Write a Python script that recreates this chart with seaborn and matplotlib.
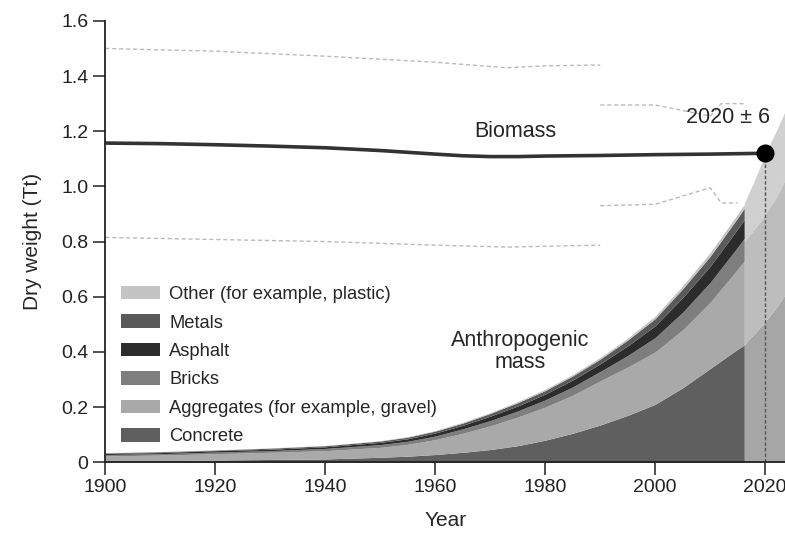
import matplotlib
matplotlib.use("Agg")
import matplotlib.pyplot as plt
import numpy as np
import seaborn as sns
from matplotlib.patches import Patch

# stacked anthropogenic mass (Tt), thickness of each layer
years = [1900, 1910, 1920, 1930, 1940, 1950, 1955, 1960, 1965, 1970, 1975, 1980,
         1985, 1990, 1995, 2000, 2005, 2010, 2015, 2016.2]
concrete = [0.005, 0.006, 0.008, 0.010, 0.012, 0.018, 0.022, 0.028, 0.036, 0.046,
            0.060, 0.080, 0.105, 0.135, 0.170, 0.210, 0.270, 0.340, 0.410, 0.425]
aggregates = [0.018, 0.020, 0.023, 0.026, 0.030, 0.036, 0.043, 0.054, 0.069, 0.086,
              0.104, 0.120, 0.138, 0.160, 0.175, 0.190, 0.210, 0.240, 0.290, 0.305]
bricks = [0.005, 0.005, 0.006, 0.006, 0.008, 0.010, 0.011, 0.013, 0.016, 0.019,
          0.022, 0.026, 0.030, 0.034, 0.042, 0.052, 0.064, 0.072, 0.080, 0.082]
asphalt = [0.004, 0.004, 0.005, 0.005, 0.006, 0.008, 0.009, 0.011, 0.013, 0.016,
           0.018, 0.021, 0.025, 0.028, 0.035, 0.043, 0.053, 0.059, 0.066, 0.068]
metals = [0.002, 0.003, 0.002, 0.004, 0.004, 0.005, 0.006, 0.007, 0.008, 0.010,
          0.012, 0.013, 0.015, 0.017, 0.021, 0.026, 0.032, 0.036, 0.040, 0.041]
other = [0.001, 0.001, 0.001, 0.001, 0.001, 0.001, 0.002, 0.002, 0.003, 0.003,
         0.004, 0.005, 0.005, 0.006, 0.007, 0.009, 0.011, 0.013, 0.014, 0.014]

# projection after 2016 (cumulative tops)
proj_years = [2016.2, 2017, 2018, 2019, 2020, 2021, 2022, 2023, 2024]
proj_concrete = [0.425, 0.445, 0.465, 0.488, 0.510, 0.535, 0.560, 0.590, 0.620]
proj_mid = [0.800, 0.820, 0.845, 0.870, 0.900, 0.930, 0.960, 1.000, 1.040]
proj_total = [0.940, 0.975, 1.020, 1.068, 1.120, 1.160, 1.200, 1.245, 1.290]

# biomass and its uncertainty bounds
bio_years = [1900, 1910, 1920, 1930, 1940, 1950, 1960, 1965, 1970, 1975, 1980,
             1990, 2000, 2010, 2020]
biomass = [1.157, 1.155, 1.151, 1.146, 1.140, 1.130, 1.117, 1.111, 1.108, 1.108,
           1.110, 1.112, 1.115, 1.117, 1.120]
up1_years = [1900, 1920, 1940, 1960, 1973, 1980, 1990]
up1 = [1.500, 1.490, 1.472, 1.450, 1.430, 1.437, 1.440]
lo1_years = [1900, 1940, 1960, 1973, 1990]
lo1 = [0.815, 0.800, 0.787, 0.780, 0.787]
up2_years = [1990, 2000, 2010, 2012, 2016.5]
up2 = [1.295, 1.295, 1.255, 1.300, 1.300]
lo2_years = [1990, 2000, 2010, 2012, 2015]
lo2 = [0.930, 0.935, 0.995, 0.940, 0.940]

labels = ["Concrete", "Aggregates (for example, gravel)", "Bricks", "Asphalt", "Metals",
          "Other (for example, plastic)"]
colors = ["#5f5f5f", "#a9a9a9", "#7e7e7e", "#2c2c2c", "#5a5a5a", "#c4c4c4"]

sns.set_style("ticks")
plt.rcParams["font.family"] = ["Liberation Sans", "DejaVu Sans"]

fig = plt.figure(figsize=(7.85, 5.35), dpi=100)
ax = fig.add_axes([0.134, 0.136, 0.866, 0.825])

ax.stackplot(years, concrete, aggregates, bricks, asphalt, metals, other,
             colors=colors, linewidth=0)

ax.fill_between(proj_years, 0, proj_concrete, color="#a6a6a6", linewidth=0)
ax.fill_between(proj_years, proj_concrete, proj_mid, color="#bdbdbd", linewidth=0)
ax.fill_between(proj_years, proj_mid, proj_total, color="#d0d0d0", linewidth=0)

dash_kw = dict(color="#bbbbbb", linewidth=1.0, dashes=(3, 2))
for xs, ys in [(up1_years, up1), (lo1_years, lo1), (up2_years, up2), (lo2_years, lo2)]:
    sns.lineplot(x=xs, y=ys, ax=ax, **dash_kw)

sns.lineplot(x=bio_years, y=biomass, ax=ax, color="#333333", linewidth=2.6)
ax.plot([2020, 2020], [0, 1.12], color="#555555", linewidth=1.0, dashes=(2.5, 1.5))
ax.plot([2020], [1.12], "o", color="black", markersize=12, zorder=5)

ax.text(1974.5, 1.198, "Biomass", fontsize=15.5, ha="center", va="center")
ax.text(2013.2, 1.25, "2020 \u00b1 6", fontsize=15.5, ha="center", va="center")
ax.text(1975.5, 0.40, "Anthropogenic\nmass", fontsize=15.5, ha="center", va="center",
        linespacing=1.05)

handles = [Patch(facecolor=c, edgecolor="none") for c in colors][::-1]
ax.legend(handles, labels[::-1], loc="upper left", bbox_to_anchor=(0.012, 0.416),
          frameon=False, fontsize=13.2, handlelength=2.15, handleheight=0.75,
          labelspacing=0.62, handletextpad=0.5, borderaxespad=0)

ax.set_xlim(1900, 2023.6)
ax.set_ylim(0, 1.6)
ax.set_xticks([1900, 1920, 1940, 1960, 1980, 2000, 2020])
ax.set_yticks(np.arange(0, 1.61, 0.2))
ax.set_yticklabels(["0"] + [f"{v:.1f}" for v in np.arange(0.2, 1.61, 0.2)])
ax.tick_params(labelsize=14, length=9, width=1.1, direction="out", colors="#222222",
               pad=3)
ax.set_xlabel("Year", fontsize=15, labelpad=11)
ax.set_ylabel("Dry weight (Tt)", fontsize=15, labelpad=14)
sns.despine(ax=ax)
for s in ["left", "bottom"]:
    ax.spines[s].set_linewidth(1.3)
    ax.spines[s].set_color("#222222")

fig.savefig("out.png", dpi=100)
